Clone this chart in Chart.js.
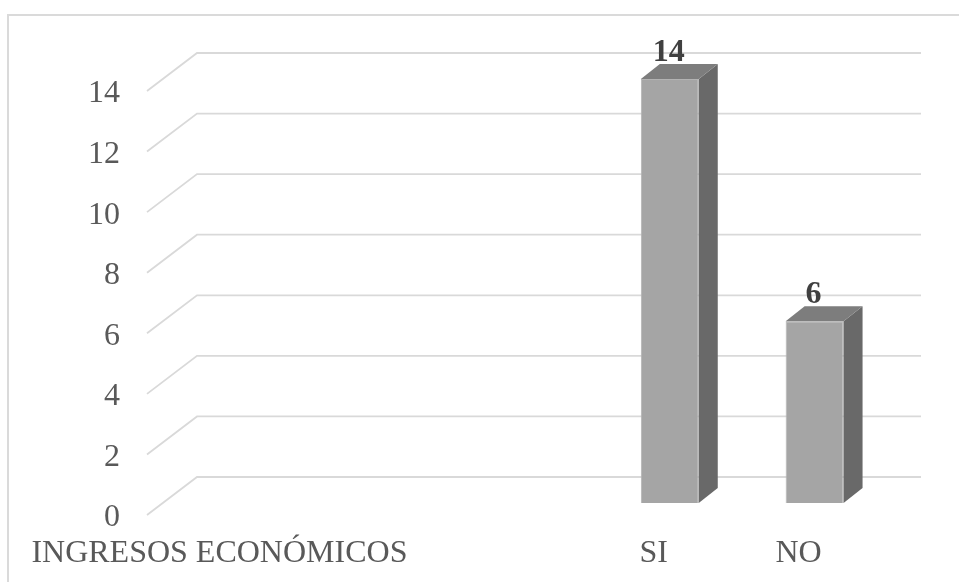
<!DOCTYPE html>
<html lang="es">
<head>
<meta charset="utf-8">
<title>Ingresos económicos</title>
<script src="https://cdn.jsdelivr.net/npm/chart.js@4/dist/chart.umd.min.js"></script>
<style>
  html, body { margin: 0; padding: 0; background: #fff; overflow: hidden; }
  #marco {
    position: absolute; left: 7px; top: 14px;
    width: 1000px; height: 620px;
    border: 2px solid #dadada;
  }
  #grafico { position: absolute; left: 0; top: 0; }
</style>
</head>
<body>
<div id="marco"></div>
<canvas id="grafico" width="959" height="582"></canvas>
<script>
const categorias = ['INGRESOS ECONÓMICOS', '', '', 'SI', 'NO'];
const valores = [null, null, null, 14, 6];
const ejeY = { min: 0, max: 14, paso: 2 };

// profundidad del efecto 3D (pared del fondo respecto al frente de la barra)
const FONDO = { x: 34, y: -26 };
const FRENTE = { x: -16, y: 12 };
const PROF_BARRA = { x: 19, y: -15 };

const FUENTE = '"Liberation Serif", "Times New Roman", serif';

// rejilla en perspectiva: diagonal del piso/pared + línea horizontal al fondo
const rejilla3d = {
  id: 'rejilla3d',
  beforeDatasetsDraw(chart) {
    const { ctx, chartArea, scales } = chart;
    const y = scales.y;
    ctx.save();
    ctx.strokeStyle = '#d9d9d9';
    ctx.lineWidth = 1.8;
    y.ticks.forEach(t => {
      const py = y.getPixelForValue(t.value);
      ctx.beginPath();
      ctx.moveTo(chartArea.left + FRENTE.x, py + FRENTE.y);
      ctx.lineTo(chartArea.left + FONDO.x, py + FONDO.y);
      ctx.lineTo(chartArea.right + FONDO.x, py + FONDO.y);
      ctx.stroke();
    });
    ctx.restore();
  }
};

// caras lateral y superior de cada barra, más la etiqueta del valor
const barras3d = {
  id: 'barras3d',
  afterDatasetsDraw(chart) {
    const { ctx } = chart;
    const meta = chart.getDatasetMeta(0);
    ctx.save();
    meta.data.forEach((bar, i) => {
      const v = valores[i];
      if (v === null || v === undefined) return;
      const { x, y, base, width } = bar.getProps(['x', 'y', 'base', 'width'], true);
      const izq = x - width / 2;
      const der = x + width / 2;

      // cara lateral
      ctx.fillStyle = '#696969';
      ctx.beginPath();
      ctx.moveTo(der, y);
      ctx.lineTo(der + PROF_BARRA.x, y + PROF_BARRA.y);
      ctx.lineTo(der + PROF_BARRA.x, base + PROF_BARRA.y);
      ctx.lineTo(der, base);
      ctx.closePath();
      ctx.fill();

      // cara superior
      ctx.fillStyle = '#7d7d7d';
      ctx.beginPath();
      ctx.moveTo(izq, y);
      ctx.lineTo(izq + PROF_BARRA.x, y + PROF_BARRA.y);
      ctx.lineTo(der + PROF_BARRA.x, y + PROF_BARRA.y);
      ctx.lineTo(der, y);
      ctx.closePath();
      ctx.fill();

      // valor
      ctx.fillStyle = '#404040';
      ctx.font = 'bold 32px ' + FUENTE;
      ctx.textAlign = 'center';
      ctx.textBaseline = 'alphabetic';
      ctx.fillText(String(v), x - 1, y - 18);
    });
    ctx.restore();
  }
};

const ctx = document.getElementById('grafico').getContext('2d');
new Chart(ctx, {
  type: 'bar',
  data: {
    labels: categorias,
    datasets: [{
      data: valores,
      backgroundColor: '#a5a5a5',
      borderColor: '#b3b3b3',
      borderWidth: 1,
      barPercentage: 0.4,
      categoryPercentage: 1
    }]
  },
  options: {
    responsive: false,
    animation: false,
    devicePixelRatio: 1,
    layout: { padding: { top: 79, right: 72, bottom: 0, left: 0 } },
    plugins: {
      legend: { display: false },
      tooltip: { enabled: false }
    },
    scales: {
      x: {
        grid: { display: false, drawTicks: false },
        border: { display: false },
        ticks: {
          color: '#595959',
          font: { family: FUENTE, size: 32 },
          padding: 31,
          labelOffset: FRENTE.x,
          maxRotation: 0,
          minRotation: 0,
          autoSkip: false
        },
        afterFit: scale => { scale.height = 79; }
      },
      y: {
        min: ejeY.min,
        max: ejeY.max,
        grid: { display: false, drawTicks: false },
        border: { display: false },
        ticks: {
          stepSize: ejeY.paso,
          color: '#595959',
          font: { family: FUENTE, size: 32 },
          padding: 43,
          labelOffset: FRENTE.y + 3
        },
        afterFit: scale => { scale.width = 163; }
      }
    }
  },
  plugins: [rejilla3d, barras3d]
});
</script>
</body>
</html>
